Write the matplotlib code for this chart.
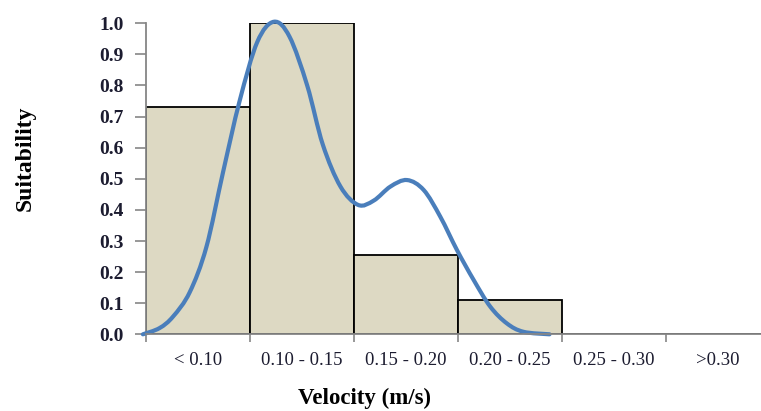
import matplotlib
matplotlib.use("Agg")
import matplotlib.pyplot as plt
import numpy as np
from matplotlib.path import Path
from matplotlib.patches import PathPatch

categories = ["< 0.10", "0.10 - 0.15", "0.15 - 0.20", "0.20 - 0.25", "0.25 - 0.30", ">0.30"]
bar_values = [0.73, 1.0, 0.255, 0.11, 0.0, 0.0]
y_ticks = [0.0, 0.1, 0.2, 0.3, 0.4, 0.5, 0.6, 0.7, 0.8, 0.9, 1.0]

# suitability curve, x in category units (category i spans i..i+1)
curve_x = [-0.03, 0.13, 0.26, 0.42, 0.58, 0.74, 0.90, 1.07, 1.23, 1.38,
           1.55, 1.70, 1.87, 2.04, 2.19, 2.35, 2.51, 2.67, 2.83, 2.99,
           3.15, 3.31, 3.47, 3.63, 3.88]
curve_y = [0.0, 0.02, 0.057, 0.135, 0.28, 0.52, 0.75, 0.94, 1.005, 0.957,
           0.80, 0.61, 0.475, 0.416, 0.43, 0.475, 0.496, 0.464, 0.378, 0.271,
           0.175, 0.089, 0.035, 0.008, 0.0]

plt.rcParams['font.family'] = ['Liberation Serif', 'DejaVu Serif']

fig = plt.figure(figsize=(7.61, 4.11), dpi=100)
ax = fig.add_axes([146/761, 1 - 334.3/411, 624/761, 311/411])

xpos = np.arange(len(categories)) + 0.5
ax.bar(xpos, bar_values, width=1.0, color="#ddd9c3", edgecolor="black", linewidth=1.3, zorder=2)

pts = np.column_stack([curve_x, curve_y])
verts = [tuple(pts[0])]
codes = [Path.MOVETO]
for i in range(len(pts) - 1):
    p0 = pts[i - 1] if i > 0 else pts[i]
    p1 = pts[i]
    p2 = pts[i + 1]
    p3 = pts[i + 2] if i + 2 < len(pts) else pts[i + 1]
    c1 = p1 + (p2 - p0) / 6.0
    c2 = p2 - (p3 - p1) / 6.0
    verts += [tuple(c1), tuple(c2), tuple(p2)]
    codes += [Path.CURVE4, Path.CURVE4, Path.CURVE4]
patch = PathPatch(Path(verts, codes), facecolor="none", edgecolor="#4a7ebb",
                  linewidth=3.0, capstyle="round", zorder=3, clip_on=False)
ax.add_patch(patch)

ax.set_xlim(0, 6)
ax.set_ylim(0, 1.0)

ax.set_yticks(y_ticks)
ax.set_yticklabels([f"{v:.1f}" for v in y_ticks], fontsize=14, fontweight="bold", color="#1c1c30")
ax.set_xticks(np.arange(0, 7))
ax.set_xticklabels([])
ax.set_xticks(xpos, minor=True)
ax.set_xticklabels(categories, minor=True, fontsize=13.5, color="#1c1c30")
ax.tick_params(axis="x", which="minor", length=0, pad=13)
ax.tick_params(axis="x", which="major", length=6, width=1.2, color="#868686")
ax.tick_params(axis="y", length=8, width=1.2, color="#868686", pad=8)

for s in ["top", "right"]:
    ax.spines[s].set_visible(False)
for s in ["left", "bottom"]:
    ax.spines[s].set_color("#868686")
    ax.spines[s].set_linewidth(1.3)
ax.spines["bottom"].set_zorder(4)

fig.text(25/761, 1 - 158/411, "Suitability", rotation=90, ha="center", va="center",
         fontsize=17, fontweight="bold", color="black")
fig.text(365/761, 1 - 398/411, "Velocity (m/s)", ha="center", va="center",
         fontsize=16.5, fontweight="bold", color="black")

fig.savefig("out.png", dpi=100)
